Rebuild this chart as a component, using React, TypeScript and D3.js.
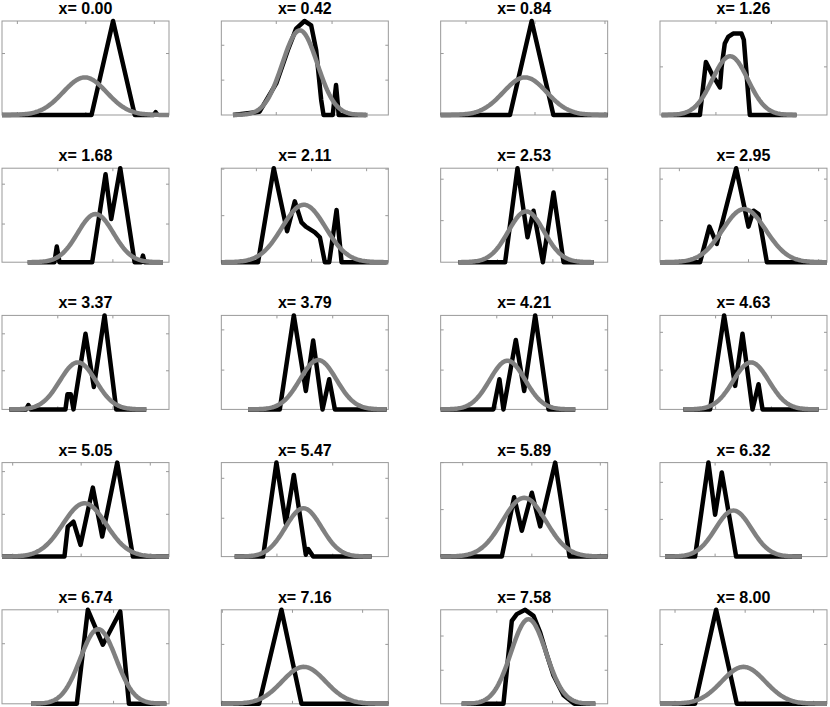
import { scaleLinear, line, range } from 'd3'

let titles = ['x= 0.00', 'x= 0.42', 'x= 0.84', 'x= 1.26', 'x= 1.68', 'x= 2.11', 'x= 2.53', 'x= 2.95',
    'x= 3.37', 'x= 3.79', 'x= 4.21', 'x= 4.63', 'x= 5.05', 'x= 5.47', 'x= 5.89', 'x= 6.32',
    'x= 6.74', 'x= 7.16', 'x= 7.58', 'x= 8.00']

// empirical distribution per panel, [position, density] in each panel's own units
let histograms: [number, number][][] = [
    [[0, 0], [0.536, 0], [0.665, 1], [0.795, 0], [0.908, 0], [0.92, 0.03], [0.932, 0]],
    [[0.07, 0], [0.229, 0.035], [0.329, 0.336], [0.398, 0.689], [0.448, 0.919], [0.498, 1], [0.538, 0.954], [0.568, 0.689], [0.598, 0.159], [0.612, 0], [0.667, 0], [0.687, 0.318], [0.703, 0], [0.867, 0]],
    [[0, 0], [0.415, 0], [0.545, 1], [0.675, 0], [1, 0]],
    [[0.01, 0], [0.239, 0], [0.275, 0.565], [0.319, 0.406], [0.339, 0.353], [0.359, 0.293], [0.369, 0.512], [0.388, 0.76], [0.408, 0.83], [0.438, 0.866], [0.488, 0.866], [0.502, 0.8], [0.538, 0], [0.817, 0]],
    [[0.154, 0], [0.314, 0], [0.328, 0.166], [0.344, 0], [0.54, 0], [0.62, 0.936], [0.654, 0.459], [0.708, 1], [0.794, 0], [0.834, 0], [0.844, 0.07], [0.854, 0], [0.964, 0]],
    [[0, 0], [0.22, 0], [0.314, 1], [0.394, 0.329], [0.44, 0.647], [0.48, 0.424], [0.506, 0.378], [0.56, 0.318], [0.59, 0.265], [0.62, 0], [0.646, 0], [0.69, 0.555], [0.72, 0], [0.99, 0]],
    [[0.106, 0], [0.386, 0], [0.46, 1], [0.52, 0.265], [0.556, 0.548], [0.612, 0], [0.676, 0.742], [0.736, 0], [0.916, 0]],
    [[0, 0], [0.24, 0], [0.296, 0.378], [0.34, 0.194], [0.456, 1], [0.53, 0.378], [0.56, 0.548], [0.59, 0.512], [0.64, 0], [1, 0]],
    [[0.044, 0], [0.144, 0], [0.158, 0.046], [0.172, 0], [0.38, 0], [0.392, 0.16], [0.412, 0.16], [0.428, 0], [0.5, 0.804], [0.55, 0.239], [0.614, 1], [0.684, 0], [0.864, 0]],
    [[0.16, 0], [0.35, 0], [0.434, 1], [0.506, 0.196], [0.55, 0.732], [0.606, 0], [0.646, 0.321], [0.68, 0], [0.99, 0]],
    [[0, 0], [0.316, 0], [0.352, 0.321], [0.376, 0], [0.45, 0.739], [0.5, 0.196], [0.566, 1], [0.646, 0], [0.806, 0]],
    [[0.14, 0], [0.3, 0], [0.384, 1], [0.45, 0.25], [0.494, 0.804], [0.554, 0], [0.59, 0.268], [0.614, 0], [0.95, 0]],
    [[0, 0], [0.374, 0], [0.394, 0.319], [0.428, 0.372], [0.47, 0.124], [0.544, 0.734], [0.6, 0.213], [0.69, 1], [0.784, 0], [1, 0]],
    [[0.08, 0], [0.25, 0], [0.33, 1], [0.386, 0.355], [0.434, 0.869], [0.506, 0.02], [0.52, 0.08], [0.55, 0], [0.9, 0]],
    [[0, 0], [0.366, 0], [0.44, 0.632], [0.486, 0.275], [0.546, 0.679], [0.596, 0.321], [0.686, 1], [0.772, 0], [1, 0]],
    [[0.03, 0], [0.21, 0], [0.29, 1], [0.33, 0.446], [0.37, 0.895], [0.456, 0], [0.85, 0]],
    [[0.174, 0], [0.448, 0], [0.514, 1], [0.604, 0.628], [0.708, 0.982], [0.76, 0], [0.984, 0]],
    [[0, 0], [0.226, 0], [0.36, 1], [0.48, 0], [1, 0]],
    [[0.126, 0], [0.376, 0], [0.426, 0.882], [0.456, 0.954], [0.506, 1], [0.556, 0.936], [0.596, 0.757], [0.636, 0.52], [0.676, 0.3], [0.736, 0.09], [0.8, 0], [0.926, 0]],
    [[0, 0], [0.21, 0], [0.336, 1], [0.46, 0], [1, 0]],
]

// gaussian fit per panel
let fitMean = [0.496, 0.47, 0.505, 0.42, 0.56, 0.494, 0.512, 0.504, 0.454, 0.58, 0.4, 0.545, 0.494, 0.492, 0.5, 0.44, 0.576, 0.494, 0.526, 0.5]
let fitSd = [0.13, 0.105, 0.13, 0.106, 0.107, 0.13, 0.107, 0.13, 0.108, 0.109, 0.106, 0.107, 0.13, 0.108, 0.13, 0.108, 0.107, 0.13, 0.105, 0.13]
let fitPeak = [0.4, 0.9, 0.4, 0.625, 0.512, 0.611, 0.54, 0.565, 0.5, 0.525, 0.518, 0.5, 0.567, 0.514, 0.625, 0.49, 0.794, 0.393, 0.9, 0.393]
let fitFrom = [0, 0.07, 0, 0.01, 0.154, 0, 0.106, 0, 0.044, 0.16, 0, 0.14, 0, 0.08, 0, 0.03, 0.174, 0, 0.126, 0]
let fitTo = [1, 0.876, 1, 0.817, 0.964, 1, 0.916, 1, 0.864, 0.99, 0.806, 0.95, 1, 0.9, 1, 0.85, 0.984, 1, 0.926, 1]

let xTicks = [
    [0.092, 0.502, 0.912], [0.329, 0.663], [0.152, 0.565, 0.984], [0.335, 0.667],
    [0.334, 0.664], [0.21, 0.54, 0.87], [0.34, 0.672], [0.116, 0.53, 0.95],
    [0.334, 0.664], [0.333, 0.667], [0.336, 0.67], [0.333, 0.667],
    [0.064, 0.474, 0.888], [0.333, 0.667], [0.132, 0.546, 0.956], [0.33, 0.66],
    [0.334, 0.668], [0.006, 0.426, 0.846], [0.336, 0.67], [0.09, 0.51, 0.92],
]
let yTicks = [
    [0.654], [0.371, 0.742], [0.654], [0.512],
    [0.406, 0.83], [0.495, 0.99], [0.442, 0.883], [0.442, 0.884],
    [0.411, 0.804], [0.418, 0.846], [0.418, 0.846], [0.418, 0.82],
    [0.45, 0.904], [0.408, 0.833], [0.5, 1], [0.396, 0.79],
    [0.639], [0.632], [0.357, 0.721], [0.632],
]

let App = () => {
    let width = 830
    let height = 707
    let boxW = 167
    let boxH = 94
    let tick = 3
    let axisColor = '#999999'

    return (
        <svg width={width} height={height} style={{ position: 'absolute', left: 0, top: 0 }}>
            <rect width={width} height={height} fill="white" />
            {titles.map((title, i) => {
                let col = i % 4
                let row = Math.floor(i / 4)
                let left = 2 + col * 219.33
                let top = 21 + row * 147.2

                let x = scaleLinear().domain([0, 1]).range([left, left + boxW])
                let y = scaleLinear().domain([0, 1]).range([top + boxH, top])

                let path = line<[number, number]>().x(d => x(d[0])).y(d => y(d[1]))

                let mu = fitMean[i], sd = fitSd[i], pk = fitPeak[i]
                let fitPts: [number, number][] = range(fitFrom[i], fitTo[i] + 1e-9, (fitTo[i] - fitFrom[i]) / 120)
                    .map(u => [u, pk * Math.exp(-0.5 * ((u - mu) / sd) ** 2)])

                return (
                    <g key={i}>
                        <rect x={left} y={top} width={boxW} height={boxH} fill="white" stroke={axisColor} strokeWidth={1} />
                        {xTicks[i].map((t, j) => (
                            <g key={'x' + j} stroke={axisColor} strokeWidth={1}>
                                <line x1={x(t)} x2={x(t)} y1={top} y2={top + tick} />
                                <line x1={x(t)} x2={x(t)} y1={top + boxH} y2={top + boxH - tick} />
                            </g>
                        ))}
                        {yTicks[i].map((t, j) => (
                            <g key={'y' + j} stroke={axisColor} strokeWidth={1}>
                                <line x1={left} x2={left + tick} y1={y(t)} y2={y(t)} />
                                <line x1={left + boxW} x2={left + boxW - tick} y1={y(t)} y2={y(t)} />
                            </g>
                        ))}
                        <path d={path(histograms[i]) ?? ''} fill="none" stroke="black" strokeWidth={4.5} strokeLinejoin="round" />
                        <path d={path(fitPts) ?? ''} fill="none" stroke="#808080" strokeWidth={4.5} strokeLinejoin="round" />
                        <text x={left + boxW / 2} y={top - 7} textAnchor="middle"
                            fontFamily="'Liberation Sans', Arial, sans-serif" fontWeight="bold" fontSize={16}>
                            {title}
                        </text>
                    </g>
                )
            })}
        </svg>
    )
}

export default App
